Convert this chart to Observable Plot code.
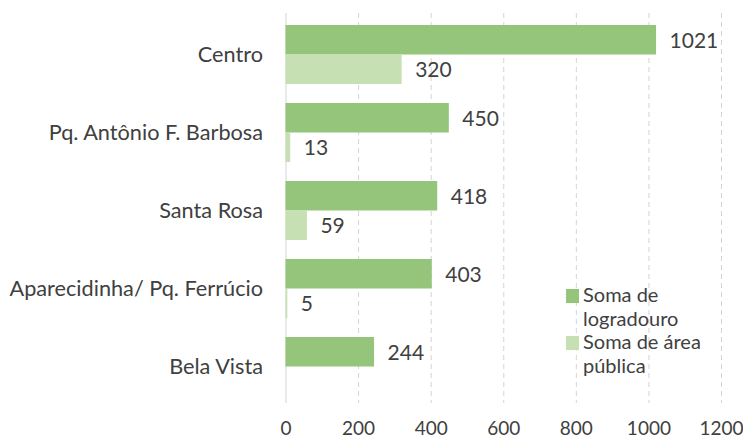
<!DOCTYPE html>
<html>
<head>
<meta charset="utf-8">
<script src="https://cdn.jsdelivr.net/npm/d3@7"></script>
<script src="https://cdn.jsdelivr.net/npm/@observablehq/plot@0.6"></script>
<style>
  html, body { margin: 0; padding: 0; background: #fff; }
  #wrap { position: relative; width: 743px; height: 441px; overflow: hidden; }
  #legend { position: absolute; left: 566px; top: 283px; font-family: Lato, sans-serif; font-size: 20px; color: #404040; line-height: 23.5px; }
  .item { position: relative; padding-left: 17px; }
  .sw { position: absolute; left: 0; top: 6px; width: 13px; height: 14px; }
</style>
</head>
<body>
<div id="wrap"></div>
<script>
const bairros = ["Centro", "Pq. Antônio F. Barbosa", "Santa Rosa", "Aparecidinha/ Pq. Ferrúcio", "Bela Vista"];
const logradouro = [1021, 450, 418, 403, 244];
const areaPublica = [320, 13, 59, 5, null];
const seriesNames = ["Soma de logradouro", "Soma de área pública"];
const xTicks = [0, 200, 400, 600, 800, 1000, 1200];
const colors = ["#94c57a", "#c6e0b4"];

const rows = bairros.map((b, i) => ({bairro: b, logradouro: logradouro[i], area: areaPublica[i]}));
const rowsArea = rows.filter(d => d.area != null);

const plot = Plot.plot({
  width: 743,
  height: 441,
  marginLeft: 285.5,
  marginRight: 22,
  marginTop: 14,
  marginBottom: 34,
  style: {fontFamily: "Lato, sans-serif", fontSize: "21.7px", color: "#404040", background: "white"},
  x: {domain: [0, 1200], ticks: xTicks, tickFormat: d => String(d), tickSize: 0, tickPadding: 14, label: null},
  y: {domain: bairros, paddingInner: 0.25, paddingOuter: 0.125, tickSize: 0, tickPadding: 23, label: null},
  marks: [
    Plot.ruleX(xTicks.filter(t => t > 0), {stroke: "#d4d4d4", strokeDasharray: "5,4", insetBottom: 4, insetTop: -1}),
    Plot.ruleX([0], {stroke: "#d4d4d4", insetBottom: 4, insetTop: -1}),
    Plot.barX(rows, {x: "logradouro", y: "bairro", fill: colors[0], insetBottom: 29.5}),
    Plot.barX(rowsArea, {x: "area", y: "bairro", fill: colors[1], insetTop: 29.5}),
    Plot.text(rows, {x: "logradouro", y: "bairro", text: d => String(d.logradouro), dy: -14, dx: 13, textAnchor: "start", fill: "#404040", fontSize: 21}),
    Plot.text(rowsArea, {x: "area", y: "bairro", text: d => String(d.area), dy: 15, dx: 13, textAnchor: "start", fill: "#404040", fontSize: 21})
  ]
});
const wrap = document.getElementById("wrap");
wrap.appendChild(plot);

// x tick labels slightly smaller, as in the reference
plot.querySelectorAll('g[aria-label^="x-axis"]').forEach(g => {
  g.setAttribute("font-size", "19");
  g.style.fontSize = "19px";
  g.querySelectorAll("text").forEach(t => { t.style.fontSize = "19px"; });
});

const legend = document.createElement("div");
legend.id = "legend";
const lines = [["Soma de", "logradouro"], ["Soma de área", "pública"]];
seriesNames.forEach((name, i) => {
  const item = document.createElement("div");
  item.className = "item";
  const sw = document.createElement("span");
  sw.className = "sw";
  sw.style.background = colors[i];
  item.appendChild(sw);
  lines[i].forEach((ln, j) => {
    if (j) item.appendChild(document.createElement("br"));
    item.appendChild(document.createTextNode(ln));
  });
  item.title = name;
  legend.appendChild(item);
});
wrap.appendChild(legend);
</script>
</body>
</html>
